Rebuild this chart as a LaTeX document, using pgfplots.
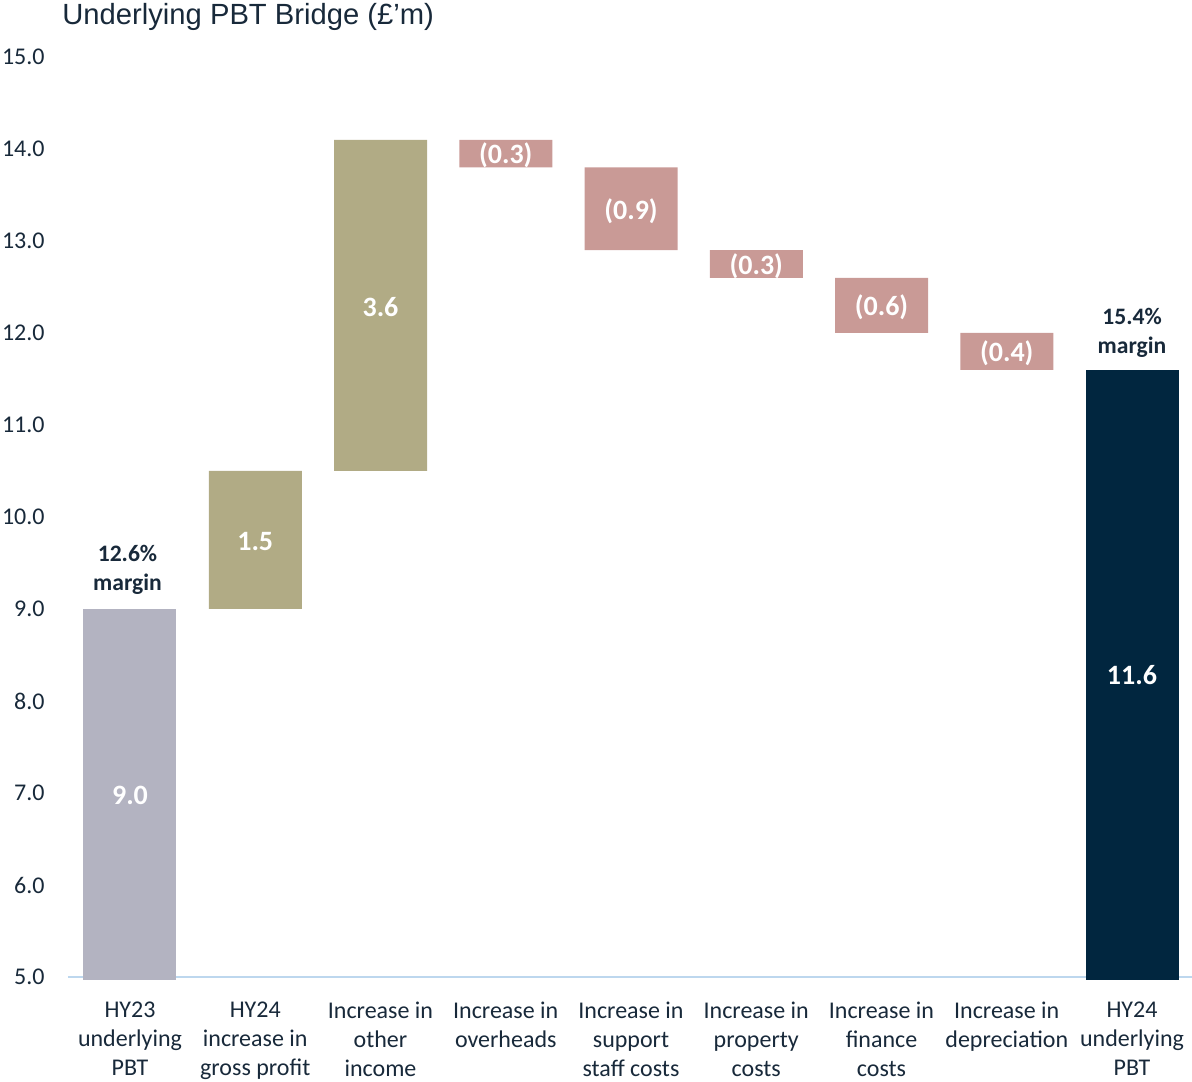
\documentclass[border=0pt]{standalone}
\usepackage{fontspec}
\setmainfont{Carlito}
\newfontfamily\titlefont{Liberation Sans}
\usepackage{pgfplots}
\pgfplotsset{compat=1.18}
\definecolor{txt}{HTML}{18293A}
\definecolor{greybar}{HTML}{B3B3C1}
\definecolor{khaki}{HTML}{B1AB85}
\definecolor{pinkbar}{HTML}{C99A96}
\definecolor{navy}{HTML}{01263F}
\definecolor{axisblue}{HTML}{BDD7EE}
\tikzset{vl/.style={text=white, yshift=-1pt, font=\fontsize{14}{16}\selectfont\bfseries},
  ml/.style={align=center, text=txt, font=\fontsize{11.8}{14.5}\selectfont\bfseries}}
\begin{document}
\begin{tikzpicture}
\useasboundingbox (-34pt,-52pt) rectangle (562pt,488.5pt);
\begin{axis}[
  at={(0,0)}, anchor=south west,
  scale only axis, width=562pt, height=460pt,
  ybar stacked, bar width=46.5pt,
  xmin=-0.495, xmax=8.479, ymin=5, ymax=15,
  clip=false,
  axis x line*=bottom, axis y line*=left,
  y axis line style={draw=none},
  x axis line style={draw=axisblue, line width=1.2pt},
  major tick length=0pt,
  xtick={0,...,8},
  xticklabels={{HY23\\underlying\\PBT},{HY24\\increase in\\gross profit},{Increase in\\other\\income},{Increase in\\overheads},{Increase in\\support\\staff costs},{Increase in\\property\\costs},{Increase in\\finance\\costs},{Increase in\\depreciation},{HY24\\underlying\\PBT}},
  xticklabel style={align=center, anchor=north, inner sep=0pt, yshift=-12.5pt, font=\fontsize{12}{14.5}\selectfont, text=txt},
  ytick={5,6,...,15},
  yticklabel style={anchor=east, inner sep=0pt, xshift=-11.5pt, font=\fontsize{12}{14}\selectfont, text=txt,
    /pgf/number format/.cd, fixed, fixed zerofill, precision=1, assume math mode=true},
]
\addplot[draw=none, fill=none] coordinates {(0,4.97) (1,9) (2,10.5) (3,13.8) (4,12.9) (5,12.6) (6,12.0) (7,11.6) (8,4.97)};
\addplot[draw=none, fill=greybar] coordinates {(0,4.03) (1,0) (2,0) (3,0) (4,0) (5,0) (6,0) (7,0) (8,0)};
\addplot[draw=none, fill=khaki] coordinates {(0,0) (1,1.5) (2,3.6) (3,0) (4,0) (5,0) (6,0) (7,0) (8,0)};
\addplot[draw=none, fill=pinkbar] coordinates {(0,0) (1,0) (2,0) (3,0.3) (4,0.9) (5,0.3) (6,0.6) (7,0.4) (8,0)};
\addplot[draw=none, fill=navy] coordinates {(0,0) (1,0) (2,0) (3,0) (4,0) (5,0) (6,0) (7,0) (8,6.63)};
\coordinate (v0) at (axis cs:0,7.0);
\coordinate (v1) at (axis cs:1,9.75);
\coordinate (v2) at (axis cs:2,12.3);
\coordinate (v3) at (axis cs:3,13.95);
\coordinate (v4) at (axis cs:4,13.35);
\coordinate (v5) at (axis cs:5,12.75);
\coordinate (v6) at (axis cs:6,12.3);
\coordinate (v7) at (axis cs:7,11.8);
\coordinate (v8) at (axis cs:8,8.3);
\coordinate (m0) at (axis cs:-0.02,9.43);
\coordinate (m8) at (axis cs:8,12.0);
\end{axis}
\node[vl] at (v0) {9.0};
\node[vl] at (v1) {1.5};
\node[vl] at (v2) {3.6};
\node[vl] at (v3) {(0.3)};
\node[vl] at (v4) {(0.9)};
\node[vl] at (v5) {(0.3)};
\node[vl] at (v6) {(0.6)};
\node[vl] at (v7) {(0.4)};
\node[vl] at (v8) {11.6};
\node[ml] at (m0) {12.6\%\\margin};
\node[ml] at (m8) {15.4\%\\margin};
\node[anchor=base west, inner sep=0pt, text=txt, font=\titlefont\fontsize{14.6}{16}\selectfont] at (-3pt,476pt) {Underlying PBT Bridge (£’m)};
\end{tikzpicture}
\end{document}
